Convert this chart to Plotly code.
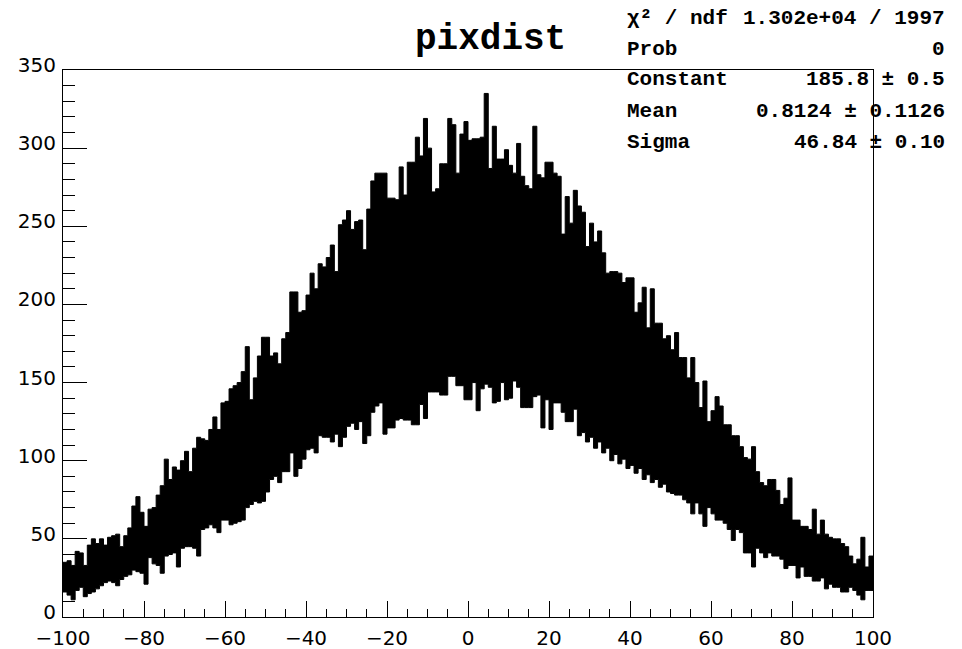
import plotly.graph_objects as go

# 1-unit intervals from -100 to 99 (left edges); per interval the max / min bin content
bin_left = list(range(-100, 100))

upper = [
    35, 36, 33, 42, 41, 33, 46, 50, 47, 50,
    46, 51, 52, 53, 45, 52, 57, 71, 77, 67,
    58, 69, 70, 78, 84, 101, 88, 96, 94, 100,
    106, 93, 108, 115, 114, 113, 120, 128, 120, 137,
    138, 146, 148, 150, 157, 173, 139, 153, 167, 179,
    179, 167, 169, 162, 178, 182, 208, 208, 195, 196,
    206, 220, 210, 226, 224, 230, 238, 221, 251, 254,
    260, 248, 253, 254, 235, 261, 279, 284, 284, 284,
    268, 268, 267, 288, 270, 291, 291, 307, 295, 319,
    300, 272, 274, 290, 290, 319, 315, 284, 309, 317,
    305, 306, 306, 307, 335, 287, 314, 293, 293, 299,
    289, 284, 303, 282, 276, 274, 314, 283, 281, 291,
    291, 284, 282, 245, 269, 252, 273, 263, 259, 237,
    252, 240, 247, 233, 220, 221, 221, 220, 214, 217,
    217, 195, 201, 211, 185, 210, 188, 188, 178, 180,
    171, 182, 166, 166, 153, 166, 150, 134, 151, 125,
    132, 141, 135, 123, 123, 116, 116, 109, 102, 101,
    109, 93, 86, 84, 88, 88, 81, 72, 76, 89,
    62, 62, 58, 58, 56, 69, 53, 62, 53, 51,
    50, 50, 47, 45, 39, 34, 37, 51, 32, 39,
]

lower = [
    16, 14, 11, 17, 19, 13, 15, 16, 18, 20,
    22, 23, 22, 20, 24, 26, 27, 30, 29, 28,
    21, 38, 34, 33, 28, 39, 40, 41, 32, 44,
    45, 45, 44, 39, 56, 57, 59, 57, 54, 62,
    62, 59, 60, 61, 62, 70, 72, 74, 73, 74,
    80, 88, 90, 86, 93, 93, 105, 90, 95, 101,
    107, 108, 105, 116, 115, 115, 112, 117, 109, 115,
    122, 124, 120, 125, 111, 116, 131, 135, 137, 117,
    121, 121, 126, 127, 126, 126, 123, 123, 136, 127,
    144, 144, 144, 142, 142, 154, 154, 148, 148, 139,
    139, 150, 132, 146, 149, 147, 137, 138, 150, 139,
    140, 151, 147, 134, 134, 134, 141, 142, 121, 139,
    120, 137, 137, 131, 125, 125, 133, 116, 118, 112,
    115, 108, 112, 105, 108, 100, 104, 98, 101, 95,
    97, 92, 95, 88, 91, 86, 88, 83, 85, 80,
    79, 78, 78, 75, 73, 66, 73, 66, 58, 70,
    66, 62, 62, 60, 56, 49, 56, 54, 41, 41,
    32, 44, 41, 38, 41, 39, 39, 37, 31, 33,
    33, 25, 32, 26, 26, 23, 23, 25, 18, 21,
    19, 19, 16, 16, 19, 17, 14, 11, 17, 17,
]

stat_names = ["χ² / ndf", "Prob", "Constant", "Mean", "Sigma"]
stat_values = ["1.302e+04 / 1997", "0", "185.8 ± 0.5", "0.8124 ± 0.1126", "46.84 ± 0.10"]

edges = bin_left + [bin_left[-1] + 1]
lo_ext = lower + [lower[-1]]
up_ext = upper + [upper[-1]]

fig = go.Figure()
fig.add_trace(go.Scatter(x=edges, y=lo_ext, mode="lines",
                         line=dict(color="black", width=1, shape="hv"),
                         hoverinfo="skip", showlegend=False))
fig.add_trace(go.Scatter(x=edges, y=up_ext, mode="lines",
                         line=dict(color="black", width=1, shape="hv"),
                         fill="tonexty", fillcolor="black",
                         showlegend=False))

mono = "Liberation Mono, Courier New, monospace"
row_y = [1.095, 1.038, 0.982, 0.925, 0.868]
for name, val, yy in zip(stat_names, stat_values, row_y):
    fig.add_annotation(text=name, xref="paper", yref="paper", x=0.694, y=yy,
                       xanchor="left", yanchor="middle", showarrow=False,
                       font=dict(family=mono, size=21, color="black", weight="bold"))
    fig.add_annotation(text=val, xref="paper", yref="paper", x=1.091, y=yy,
                       xanchor="right", yanchor="middle", showarrow=False,
                       font=dict(family=mono, size=21, color="black", weight="bold"))

tickfont = dict(family="DejaVu Sans, Verdana, sans-serif", size=20, color="black")

fig.update_layout(
    width=962, height=649,
    margin=dict(l=63, r=89, t=70, b=32),
    paper_bgcolor="white", plot_bgcolor="white",
    title=dict(text="pixdist", x=0.51, y=0.944, xanchor="center", yanchor="middle",
               font=dict(family=mono, size=36, color="black", weight="bold")),
    showlegend=False,
)
fig.update_xaxes(range=[-100, 100], autorange=False, automargin=False,
                 showgrid=False, zeroline=False,
                 showline=True, linecolor="black", linewidth=1, mirror=True,
                 ticks="inside", tickmode="linear", tick0=-100, dtick=20, ticklen=16,
                 tickcolor="black", tickwidth=1, tickfont=tickfont, ticklabelstandoff=3,
                 minor=dict(ticks="inside", dtick=5, ticklen=8, tickcolor="black", tickwidth=1, showgrid=False))
fig.update_yaxes(range=[0, 350], autorange=False, automargin=False,
                 showgrid=False, zeroline=False,
                 showline=True, linecolor="black", linewidth=1, mirror=True,
                 ticks="inside", tickmode="linear", tick0=0, dtick=50, ticklen=24,
                 tickcolor="black", tickwidth=1, tickfont=tickfont, ticklabelstandoff=2,
                 ticklabelshift=-5,
                 minor=dict(ticks="inside", dtick=10, ticklen=12, tickcolor="black", tickwidth=1, showgrid=False))

fig.write_html("out.html")
